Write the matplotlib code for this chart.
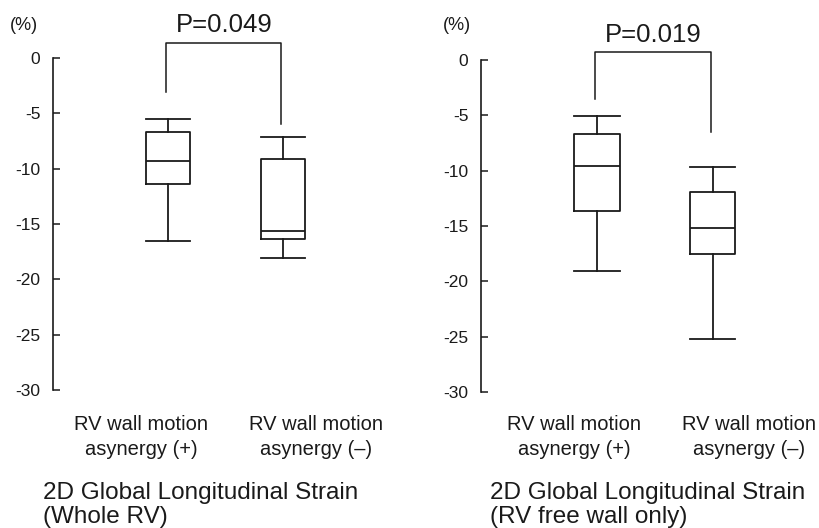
import matplotlib
matplotlib.use('Agg')
import matplotlib.pyplot as plt

plt.rcParams['font.family'] = ['Liberation Sans', 'DejaVu Sans']

# ============================================================
#  데이터
# ============================================================
groups = ['RV wall motion\nasynergy (+)', 'RV wall motion\nasynergy (\u2013)']
panel_titles = ['2D Global Longitudinal Strain\n(Whole RV)',
                '2D Global Longitudinal Strain\n(RV free wall only)']
p_labels = ['P=0.049', 'P=0.019']

# [asynergy(+), asynergy(-)]
whole_whishi = [-5.5, -7.1]
whole_q3 = [-6.7, -9.1]
whole_med = [-9.3, -15.6]
whole_q1 = [-11.4, -16.4]
whole_whislo = [-16.5, -18.1]

free_whishi = [-5.1, -9.7]
free_q3 = [-6.7, -11.9]
free_med = [-9.6, -15.2]
free_q1 = [-13.6, -17.5]
free_whislo = [-19.1, -25.2]

# bracket: top, left leg bottom, right leg bottom
whole_bracket = [1.35, -3.1, -6.0]
free_bracket = [0.7, -3.5, -6.5]

yticks = [0, -5, -10, -15, -20, -25, -30]

W, H = 820, 528
LC = '#1a1a1a'


def make_stats(whishi, q3, med, q1, whislo):
    return [{'whishi': a, 'q3': b, 'med': c, 'q1': d, 'whislo': e, 'fliers': []}
            for a, b, c, d, e in zip(whishi, q3, med, q1, whislo)]


def draw_panel(fig, rect, stats, bracket, ptxt, pct_x, label_x, title_x, title):
    ax = fig.add_axes(rect)
    ax.bxp(stats, positions=[1, 2], widths=0.39, capwidths=0.39, showfliers=False,
           boxprops=dict(color=LC, lw=1.3), medianprops=dict(color=LC, lw=1.3),
           whiskerprops=dict(color=LC, lw=1.3), capprops=dict(color=LC, lw=1.3))
    ax.set_xlim(0, 2.7)
    ax.set_ylim(-30, 0)
    ax.set_yticks(yticks)
    ax.set_yticklabels([str(t) for t in yticks], fontsize=12.5)
    ax.tick_params(axis='y', direction='in', length=5, width=1.1, pad=9, colors=LC)
    ax.set_xticks([])
    for s in ['top', 'right', 'bottom']:
        ax.spines[s].set_visible(False)
    ax.spines['left'].set_color(LC)
    ax.spines['left'].set_linewidth(1.2)
    ax.patch.set_alpha(0)

    top, lb, rb = bracket
    ax.plot([0.98, 0.98, 1.98, 1.98], [lb, top, top, rb], color=LC, lw=1.1, clip_on=False)
    ax.text(1.49, top + 1.6, ptxt, ha='center', va='center', fontsize=18.5, color=LC)

    fig.text(pct_x / W, 1 - 26 / H, '(%)', ha='center', va='center', fontsize=13, color=LC)
    for gx, g in zip(label_x, groups):
        fig.text(gx / W, 1 - 437 / H, g, ha='center', va='center', fontsize=14.5,
                 color=LC, linespacing=1.45)
    fig.text(title_x / W, 1 - 505 / H, title, ha='left', va='center', fontsize=17.5,
             color=LC, linespacing=1.12)
    return ax


fig = plt.figure(figsize=(W / 100, H / 100), dpi=100)

draw_panel(fig, [53 / W, (H - 390) / H, 310.5 / W, 332 / H],
           make_stats(whole_whishi, whole_q3, whole_med, whole_q1, whole_whislo),
           whole_bracket, p_labels[0], 24, [141, 316], 43, panel_titles[0])
draw_panel(fig, [481 / W, (H - 392) / H, 313 / W, 332 / H],
           make_stats(free_whishi, free_q3, free_med, free_q1, free_whislo),
           free_bracket, p_labels[1], 457, [574, 749], 490, panel_titles[1])

fig.savefig('out.png', dpi=100)
